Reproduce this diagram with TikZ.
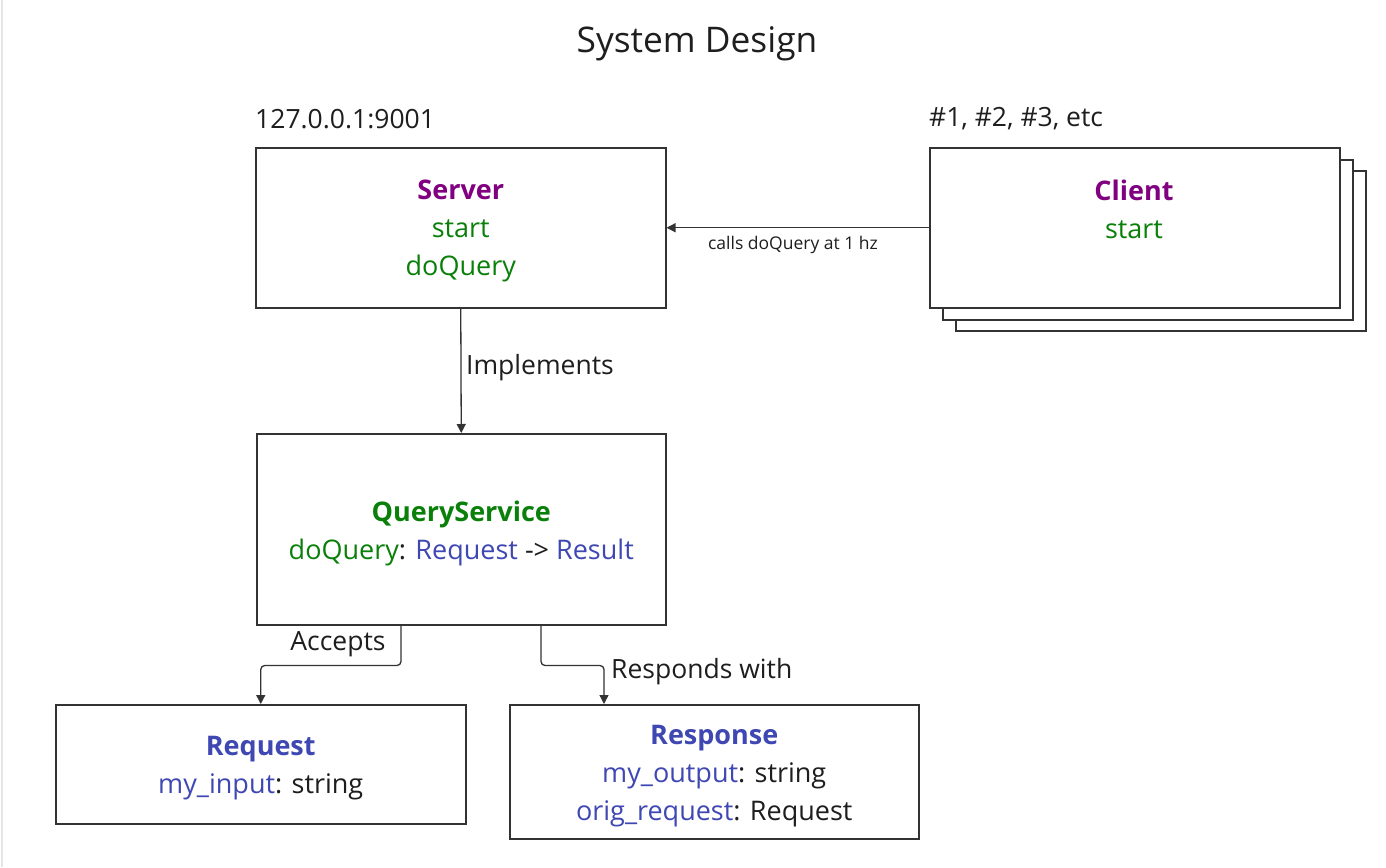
\documentclass[tikz,border=0pt]{standalone}
\usepackage{fontspec}
\setmainfont{Open Sans}
\usetikzlibrary{arrows.meta,calc}
\definecolor{cpurple}{HTML}{800080}
\definecolor{cgreen}{HTML}{0A800A}
\definecolor{cblue}{HTML}{3F47B3}
\definecolor{cline}{HTML}{333333}
\definecolor{ctext}{HTML}{1E1E1E}
\newcommand{\pu}[1]{\textcolor{cpurple}{#1}}
\newcommand{\gr}[1]{\textcolor{cgreen}{#1}}
\newcommand{\bl}[1]{\textcolor{cblue}{#1}}
\begin{document}
\begin{tikzpicture}[x=1pt,y=-1pt,
  box/.style={draw=cline,line width=1.5pt,fill=white,inner sep=0pt,anchor=north west},
  body/.style={font=\fontsize{27}{38}\selectfont,text=ctext,align=center,inner sep=0pt},
  lbl/.style={font=\fontsize{26.5}{32}\selectfont,text=ctext,inner sep=0pt},
  small/.style={font=\fontsize{17.5}{20}\selectfont,text=ctext,inner sep=0pt},
  arr/.style={draw=cline,line width=1.3pt,-{Triangle[length=9pt,width=9pt]},rounded corners=4pt}]
\useasboundingbox (0,0) rectangle (1386,867);
\fill[white] (0,0) rectangle (1386,867);
\draw[gray!20,line width=2pt] (1.5,0) -- (1.5,867);

\node[font=\fontsize{35.3}{40}\selectfont,text=ctext,inner sep=0pt] (title) at (697,44) {System Design};

% Server
\node[box,minimum width=410pt,minimum height=160pt] (server) at (255,147) {};
\node[body] (servert) at ($(server.center)+(0,3)$) {\textbf{\pu{Server}}\\\gr{start}\\\gr{doQuery}};
\node[lbl,anchor=west] (addr) at (255,119) {127.0.0.1:9001};

% Client stack
\node[box,minimum width=410pt,minimum height=160pt] (client3) at (955,170) {};
\node[box,minimum width=410pt,minimum height=160pt] (client2) at (942,159) {};
\node[box,minimum width=410pt,minimum height=160pt] (client) at (929,147) {};
\node[body] (clientt) at (1134,209) {\textbf{\pu{Client}}\\\gr{start}};
\node[lbl,anchor=west] (nums) at (929,119) {\#1, \#2, \#3, etc};

% QueryService
\node[box,minimum width=409pt,minimum height=191pt] (qs) at (256,433) {};
\node[body] (qst) at ($(qs.center)+(0,4)$) {\textbf{\gr{QueryService}}\\\gr{doQuery}: \bl{Request} -> \bl{Result}};

% Request
\node[box,minimum width=410pt,minimum height=119pt] (req) at (55,704) {};
\node[body] (reqt) at ($(req.center)+(0,4)$) {\textbf{\bl{Request}}\\\bl{my\_input}: string};

% Response
\node[box,minimum width=409pt,minimum height=134pt] (resp) at (509,704) {};
\node[body] (respt) at ($(resp.center)+(0,4)$) {\textbf{\bl{Response}}\\\bl{my\_output}: string\\\bl{orig\_request}: Request};

% connectors
\draw[arr] (client.west) -- (server.east);
\node[small] (callsl) at (793,245) {calls doQuery at 1 hz};

\draw[arr] (server.south) -- (qs.north);
\node[lbl,anchor=west] (impl) at (466,368) {Implements};

\coordinate (accs) at ($(qs.south west)+(145,0)$);
\draw[arr] (accs) -- ++(0,40) -| (req.north);
\node[lbl] (accl) at (338,644) {Accepts};

\coordinate (ress) at ($(qs.south west)+(285,0)$);
\coordinate (rese) at ($(resp.north west)+(95,0)$);
\draw[arr] (ress) -- ++(0,40) -| (rese);
\node[lbl,anchor=west] (resl) at (611,672) {Responds with};
\end{tikzpicture}
\end{document}
